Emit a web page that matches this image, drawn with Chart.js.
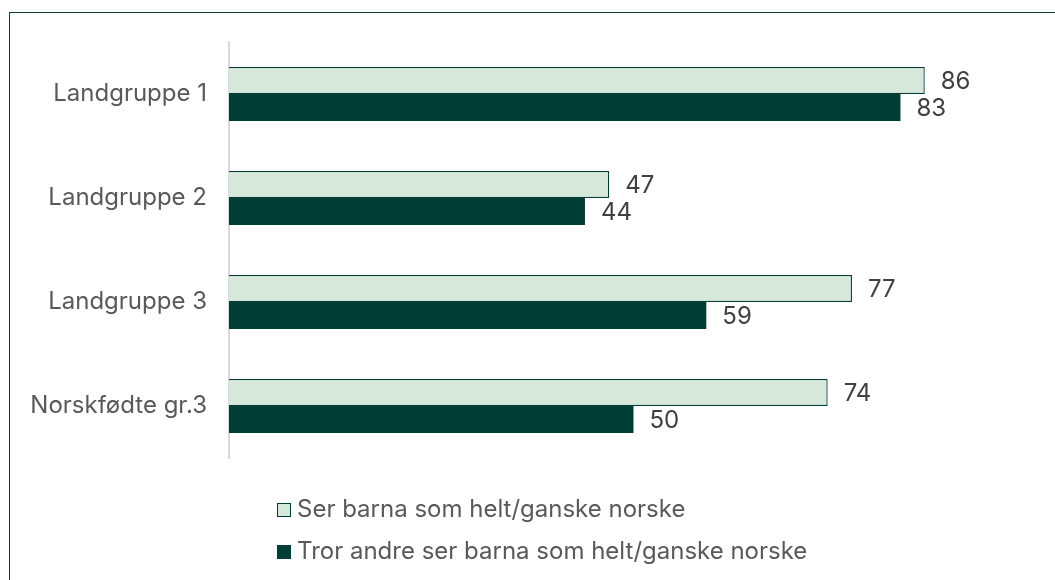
<!DOCTYPE html>
<html>
<head>
<meta charset="utf-8">
<script src="https://cdn.jsdelivr.net/npm/chart.js@4.4.1/dist/chart.umd.min.js"></script>
<style>
  html, body { margin: 0; padding: 0; background: #fff; }
  body { width: 1055px; height: 580px; position: relative; overflow: hidden; font-family: Inter, "Noto Sans", sans-serif; }
  #frame { position: absolute; left: 9px; top: 12px; width: 1200px; height: 700px; border-left: 1.5px solid #0b3d36; border-top: 1.5px solid #0b3d36; }
  #wrap { position: absolute; left: 0; top: 0; width: 1055px; height: 580px; }
  #legend { position: absolute; left: 277px; top: 494px; color: #595959; font-size: 24px; line-height: 30px; }
  #legend div { height: 42px; display: flex; align-items: flex-start; }
  #legend span.box { display: inline-block; width: 14px; height: 14px; box-sizing: border-box; margin: 9px 6px 0 0; }
</style>
</head>
<body>
<div id="frame"></div>
<div id="wrap"><canvas id="barChart" width="1055" height="580"></canvas></div>
<div id="legend"></div>
<script>
var categories = ['Landgruppe 1', 'Landgruppe 2', 'Landgruppe 3', 'Norskfødte gr.3'];
var seriesNames = ['Ser barna som helt/ganske norske', 'Tror andre ser barna som helt/ganske norske'];
var serBarna = [86, 47, 77, 74];
var trorAndre = [83, 44, 59, 50];

var lightFill = '#d5e8da';
var darkFill = '#003d35';

// value labels at the end of each bar
var valueLabels = {
    id: 'valueLabels',
    afterDatasetsDraw: function (chart) {
        var ctx = chart.ctx;
        ctx.save();
        ctx.font = '24px Inter, "Noto Sans", sans-serif';
        ctx.fillStyle = '#404040';
        ctx.textBaseline = 'middle';
        ctx.textAlign = 'left';
        chart.data.datasets.forEach(function (ds, i) {
            chart.getDatasetMeta(i).data.forEach(function (bar, j) {
                ctx.fillText(ds.data[j], bar.x + 16, bar.y + 1);
            });
        });
        ctx.restore();
    }
};

document.addEventListener('DOMContentLoaded', function () {
    var ctx = document.getElementById('barChart').getContext('2d');
    var chart = new Chart(ctx, {
        type: 'bar',
        data: {
            labels: categories,
            datasets: [
                {
                    label: seriesNames[0],
                    data: serBarna,
                    backgroundColor: lightFill,
                    borderColor: darkFill,
                    borderWidth: 1.3,
                    borderSkipped: 'start',
                    categoryPercentage: 0.52,
                    barPercentage: 1.0
                },
                {
                    label: seriesNames[1],
                    data: trorAndre,
                    backgroundColor: darkFill,
                    borderWidth: 0,
                    categoryPercentage: 0.52,
                    barPercentage: 1.0
                }
            ]
        },
        options: {
            indexAxis: 'y',
            responsive: false,
            animation: false,
            layout: { padding: { top: 42, bottom: 122, right: 17, left: 0 } },
            scales: {
                x: {
                    min: 0,
                    max: 100,
                    display: false
                },
                y: {
                    afterFit: function (scale) { scale.width = 229; },
                    grid: { display: true, drawOnChartArea: false, drawTicks: false },
                    border: { display: true, color: '#d9d9d9', width: 2 },
                    ticks: {
                        color: '#595959',
                        padding: 22,
                        font: { family: 'Inter, "Noto Sans", sans-serif', size: 24 }
                    }
                }
            },
            plugins: {
                legend: { display: false },
                tooltip: { enabled: false }
            }
        },
        plugins: [valueLabels]
    });

    var legend = document.getElementById('legend');
    chart.data.datasets.forEach(function (ds) {
        var row = document.createElement('div');
        var box = document.createElement('span');
        box.className = 'box';
        box.style.background = ds.backgroundColor;
        box.style.border = '1.3px solid ' + darkFill;
        row.appendChild(box);
        row.appendChild(document.createTextNode(ds.label));
        legend.appendChild(row);
    });
});
</script>
</body>
</html>
